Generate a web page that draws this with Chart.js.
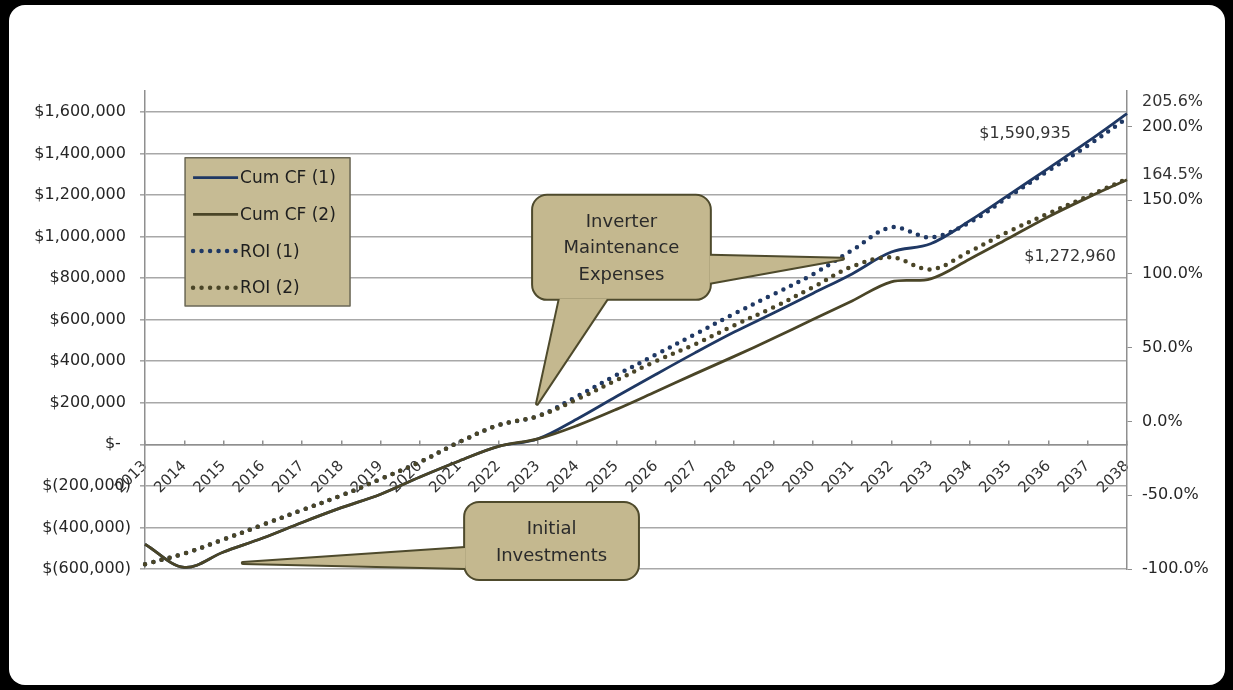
<!DOCTYPE html>
<html>
<head>
<meta charset="utf-8">
<title>Cumulative cash flow and ROI</title>
<script src="https://cdn.jsdelivr.net/npm/chart.js@4.4.1/dist/chart.umd.min.js"></script>
<style>
  html, body { margin:0; padding:0; background:#000; }
  #frame { position:relative; width:1233px; height:690px; background:#000; overflow:hidden; }
  #paper { position:absolute; left:9px; top:5px; right:8px; bottom:5px; background:#fff; border-radius:16px; }
  #chart { position:absolute; left:0; top:0; }
</style>
</head>
<body>
<div id="frame"><div id="paper"></div><canvas id="chart" width="1233" height="690"></canvas></div>
<script>
// data
const years = ['2013','2014','2015','2016','2017','2018','2019','2020','2021','2022','2023','2024','2025',
               '2026','2027','2028','2029','2030','2031','2032','2033','2034','2035','2036','2037','2038'];

const cumCF1 = [-481000,-592000,-518000,-451000,-376000,-305000,-240000,-157000,-80000,-10000,26000,122000,230000,
                336000,440000,540000,632000,726000,820000,925000,965000,1076000,1201000,1328000,1456000,1590935];
const cumCF2 = [-481000,-592000,-518000,-451000,-376000,-305000,-240000,-157000,-80000,-10000,26000,90000,168000,
                253000,339000,423000,510000,600000,690000,782000,796000,892000,993000,1095000,1187000,1272960];
const roi1 = [-96.7,-89.5,-80.0,-70.0,-60.0,-50.2,-39.0,-27.5,-14.0,-2.5,3.6,17.0,31.4,
              45.2,59.1,73.0,86.2,99.7,116.0,131.6,124.8,135.0,152.6,170.0,187.0,205.6];
const roi2 = [-96.7,-89.5,-80.0,-70.0,-60.0,-50.2,-39.0,-27.5,-14.0,-2.5,3.6,15.0,28.0,
              40.8,52.3,65.2,77.4,90.9,105.0,111.3,103.1,115.3,128.9,141.0,152.6,164.5];

const moneyTicks = [-600000,-400000,-200000,0,200000,400000,600000,800000,1000000,1200000,1400000,1600000];
const pctTicks = [-100,-50,0,50,100,150,200];

const navy = '#1f3864', olive = '#4a4527';
const noteFill = '#c4b88f', noteEdge = '#4e4a2c';

function fmtMoney(v){
  if(v === 0) return '$-  ';
  const s = Math.abs(v).toLocaleString('en-US');
  return v < 0 ? '$(' + s + ')' : '$' + s + ' ';
}

// callouts, in (category index, left axis value)
const notes = [
  { lines:['Inverter','Maintenance','Expenses'],
    box:[9.88, 1196000, 14.38, 700000],
    tails:[ [[10.56,700000],[11.76,700000],[9.98,195000]],
            [[14.38,907000],[14.38,777000],[17.77,893000]] ] },
  { lines:['Initial','Investments'],
    box:[8.15, -282000, 12.55, -648000],
    tails:[ [[8.15,-499000],[8.15,-595000],[2.49,-571000]] ] }
];
const legendBox = [1.02, 1379000, 5.22, 666000];

function roundRect(ctx, x0, y0, x1, y1, r){
  ctx.beginPath();
  ctx.moveTo(x0 + r, y0);
  ctx.arcTo(x1, y0, x1, y1, r);
  ctx.arcTo(x1, y1, x0, y1, r);
  ctx.arcTo(x0, y1, x0, y0, r);
  ctx.arcTo(x0, y0, x1, y0, r);
  ctx.closePath();
}

const extrasPlugin = {
  id:'extras',
  afterDatasetsDraw(chart){
    const {ctx, scales:{x, y, y1}} = chart;
    const P = (i, v) => [x.getPixelForValue(i), y.getPixelForValue(v)];
    ctx.save();

    // callouts
    notes.forEach(n => {
      const [bx0, by0] = P(n.box[0], n.box[1]);
      const [bx1, by1] = P(n.box[2], n.box[3]);
      const tails = n.tails.map(t => t.map(p => P(p[0], p[1])));
      const tailPath = t => { ctx.beginPath(); ctx.moveTo(t[0][0], t[0][1]); ctx.lineTo(t[2][0], t[2][1]); ctx.lineTo(t[1][0], t[1][1]); ctx.closePath(); };
      ctx.lineWidth = 4; ctx.strokeStyle = noteEdge; ctx.lineJoin = 'round';
      tails.forEach(t => { tailPath(t); ctx.stroke(); });
      roundRect(ctx, bx0, by0, bx1, by1, 14); ctx.stroke();
      ctx.fillStyle = noteFill;
      tails.forEach(t => { tailPath(t); ctx.fill(); });
      roundRect(ctx, bx0, by0, bx1, by1, 14); ctx.fill();
      ctx.fillStyle = '#2a2a2a';
      ctx.font = '18px "DejaVu Sans"';
      ctx.textAlign = 'center'; ctx.textBaseline = 'middle';
      n.lines.forEach((s, k) => ctx.fillText(s, (bx0 + bx1) / 2, by0 + 26.5 + k * 26.5));
    });

    // legend
    const [lx0, ly0] = P(legendBox[0], legendBox[1]);
    const [lx1, ly1] = P(legendBox[2], legendBox[3]);
    ctx.fillStyle = '#c6bb94';
    ctx.fillRect(lx0, ly0, lx1 - lx0, ly1 - ly0);
    ctx.strokeStyle = '#6a6755'; ctx.lineWidth = 1.5;
    ctx.strokeRect(lx0, ly0, lx1 - lx0, ly1 - ly0);
    ctx.font = '17px "DejaVu Sans"';
    ctx.textAlign = 'left'; ctx.textBaseline = 'middle';
    chart.data.datasets.forEach((ds, i) => {
      const cy = ly0 + 20 + i * 36.7;
      ctx.save();
      ctx.strokeStyle = ds.borderColor; ctx.lineWidth = ds.borderWidth;
      ctx.setLineDash(ds.borderDash || []); ctx.lineCap = ds.borderCapStyle || 'butt';
      ctx.beginPath(); ctx.moveTo(lx0 + 8, cy); ctx.lineTo(lx0 + 53, cy); ctx.stroke();
      ctx.restore();
      ctx.fillStyle = '#1e1e1e';
      ctx.fillText(ds.label, lx0 + 55, cy + 1);
    });

    // end value labels
    const last = years.length - 1;
    ctx.font = '16px "DejaVu Sans"'; ctx.fillStyle = '#333';
    ctx.textAlign = 'center';
    ctx.fillText('$' + cumCF1[last].toLocaleString('en-US'), x.getPixelForValue(last) - 102, y.getPixelForValue(cumCF1[last]) + 20);
    ctx.fillText('$' + cumCF2[last].toLocaleString('en-US'), x.getPixelForValue(last) - 57, y.getPixelForValue(cumCF2[last]) + 77);
    ctx.textAlign = 'left';
    ctx.fillText(roi1[last].toFixed(1) + '%', y1.left + 15, y1.getPixelForValue(roi1[last]) - 16);
    ctx.fillText(roi2[last].toFixed(1) + '%', y1.left + 15, y1.getPixelForValue(roi2[last]) - 4);
    ctx.restore();
  }
};

Chart.defaults.font.family = '"DejaVu Sans"';
Chart.defaults.color = '#2a2a2a';

const lineBase = { pointRadius:0, tension:0.35, fill:false };

new Chart(document.getElementById('chart'), {
  type:'line',
  data:{
    labels: years,
    datasets:[
      { ...lineBase, label:'Cum CF (1)', data:cumCF1, yAxisID:'y', borderColor:navy, borderWidth:2.8, order:3 },
      { ...lineBase, label:'Cum CF (2)', data:cumCF2, yAxisID:'y', borderColor:olive, borderWidth:2.8, order:2 },
      { ...lineBase, label:'ROI (1)', data:roi1, yAxisID:'y1', borderColor:navy, borderWidth:4.5, borderDash:[0,8.5], borderCapStyle:'round', order:1 },
      { ...lineBase, label:'ROI (2)', data:roi2, yAxisID:'y1', borderColor:olive, borderWidth:4.5, borderDash:[0,8.5], borderCapStyle:'round', order:0 }
    ]
  },
  options:{
    responsive:false, animation:false, events:[],
    layout:{ padding:{ top:91, bottom:121, left:0, right:0 } },
    plugins:{ legend:{display:false}, tooltip:{enabled:false} },
    scales:{
      x:{
        type:'category', position:{ y:0 }, offset:false,
        grid:{ drawOnChartArea:false, tickLength:-5, color:'#8f8f8f', lineWidth:1.5 },
        border:{ color:'#8f8f8f', width:1.5 },
        ticks:{ autoSkip:false, minRotation:45, maxRotation:45, padding:18, color:'#333', font:{ size:15 } }
      },
      y:{
        position:'left', min:-600000, max:1700000,
        afterBuildTicks: s => { s.ticks = moneyTicks.map(v => ({ value:v })); },
        afterFit: s => { s.width = 145; },
        grid:{ color:'#a8a8a8', lineWidth:1.6, tickLength:5 },
        border:{ color:'#8f8f8f', width:1.5 },
        ticks:{ padding:9, callback:fmtMoney, color:'#262626', font:{ size:16 } }
      },
      y1:{
        position:'right', min:-100, max:224,
        afterBuildTicks: s => { s.ticks = pctTicks.map(v => ({ value:v })); },
        afterFit: s => { s.width = 106; },
        grid:{ drawOnChartArea:false, color:'#8f8f8f', tickLength:5 },
        border:{ color:'#8f8f8f', width:1.5 },
        ticks:{ padding:10, callback: v => v.toFixed(1) + '%', color:'#262626', font:{ size:16 } }
      }
    }
  },
  plugins:[extrasPlugin]
});
</script>
</body>
</html>
